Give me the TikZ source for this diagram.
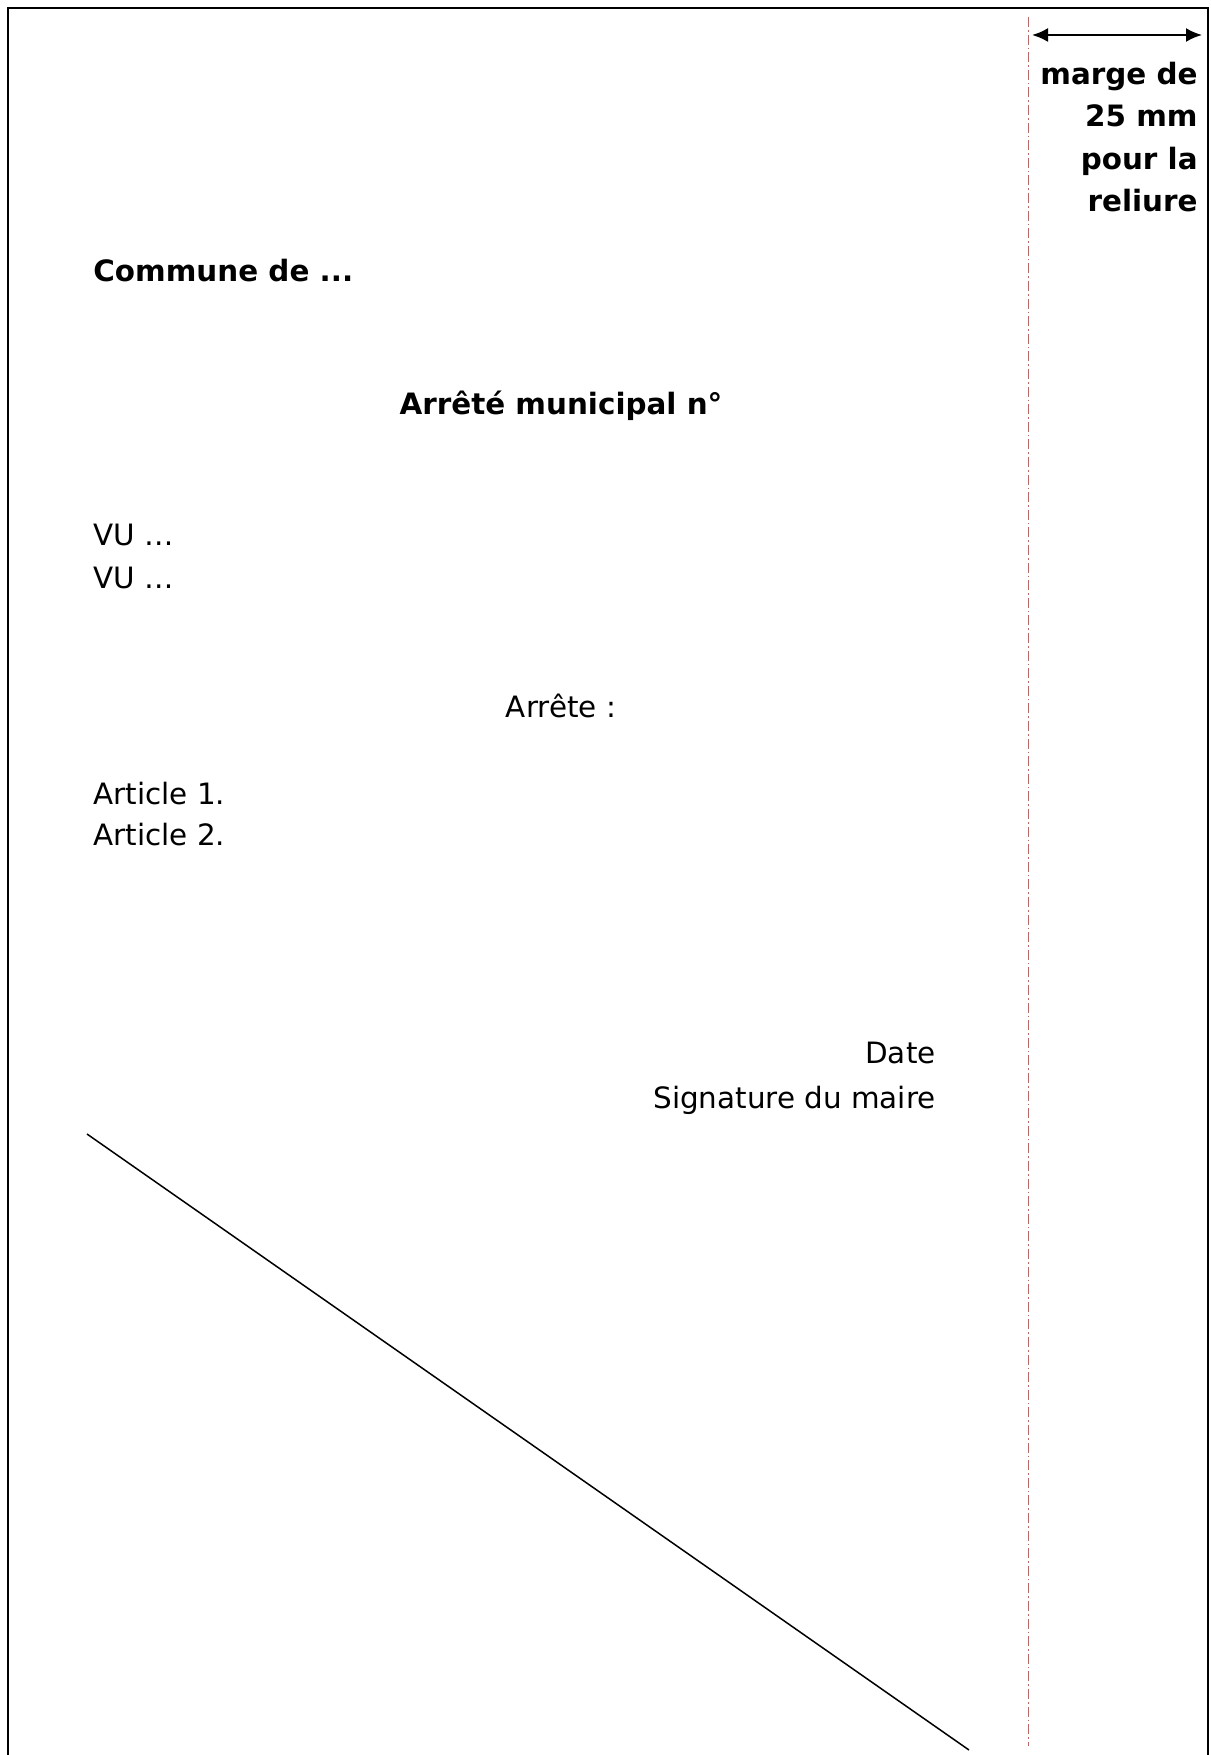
\documentclass[tikz,border=0pt]{standalone}
\usepackage{fontspec}
\setmainfont{DejaVu Sans}
\usepackage{tikz}
\usetikzlibrary{arrows.meta}
\definecolor{margerouge}{RGB}{240,80,80}

\begin{document}
\begin{tikzpicture}[x=0.5pt,y=-0.5pt,
  texte/.style={inner sep=0pt,font=\fontsize{14.7}{21}\selectfont},
  titre/.style={texte,font=\fontsize{14.7}{21}\selectfont\bfseries},
  cote/.style={{Latex[length=8pt,width=7pt]}-{Latex[length=8pt,width=7pt]},line width=1.1pt}]
\useasboundingbox (0,0) rectangle (1210,1755);
\draw[line width=1pt] (8,1755) -- (8,8) -- (1208,8) -- (1208,1755);
% marge de reliure
\draw[margerouge,line width=0.4pt,dash pattern=on 5pt off 1.5pt on 0.8pt off 1.5pt] (1028,17) -- (1028,1746);
\coordinate (margeG) at (1032,35);
\coordinate (margeD) at (1202,35);
\draw[cote] (margeG) -- (margeD);
\foreach \y/\t/\n in {85/marge de/m1,127/25 mm/m2,170/pour la/m3,212/reliure/m4} {\node[titre,anchor=base east] (\n) at (1198,\y) {\t};}
% en-tete
\node[titre,anchor=base west] (commune) at (93,281) {Commune de ...};
\node[titre,anchor=base] (arrete) at (561,414) {Arrêté municipal n°};
\node[texte,anchor=base west] (vu1) at (93,545) {VU …};
\node[texte,anchor=base west] (vu2) at (93,588) {VU …};
\node[texte,anchor=base] (arretedit) at (561,717) {Arrête :};
\node[texte,anchor=base west] (art1) at (93,804) {Article 1.};
\node[texte,anchor=base west] (art2) at (93,845) {Article 2.};
\node[texte,anchor=base east] (date) at (936,1063) {Date};
\node[texte,anchor=base east] (signature) at (936,1108) {Signature du maire};
% barre
\coordinate (barreA) at (87,1134);
\coordinate (barreB) at (969,1750);
\draw[line width=0.75pt] (barreA) -- (barreB);
\end{tikzpicture}
\end{document}
